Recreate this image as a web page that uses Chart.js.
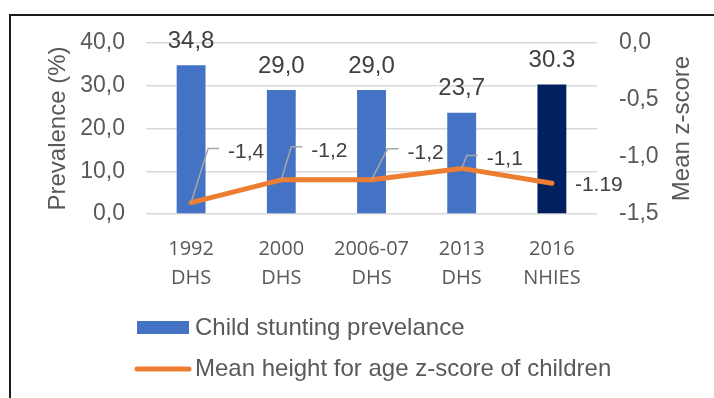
<!DOCTYPE html>
<html>
<head>
<meta charset="utf-8">
<script src="https://cdn.jsdelivr.net/npm/chart.js@4/dist/chart.umd.min.js"></script>
<style>
  html, body { margin: 0; padding: 0; background: #fff; }
  #wrap { width: 714px; height: 398px; position: relative; }
</style>
</head>
<body>
<div id="wrap"><canvas id="stuntingChart"></canvas></div>
<script>
// data
const categories = [['1992', 'DHS'], ['2000', 'DHS'], ['2006-07', 'DHS'], ['2013', 'DHS'], ['2016', 'NHIES']];
const stuntingPct = [34.8, 29.0, 29.0, 23.7, 30.3];
const meanZScore = [-1.40, -1.20, -1.20, -1.10, -1.23];
const stuntingLabels = ['34,8', '29,0', '29,0', '23,7', '30.3'];
const zScoreLabels = ['-1,4', '-1,2', '-1,2', '-1,1', '-1.19'];
const seriesNames = ['Child stunting prevelance', 'Mean height for age z-score of children'];

// label placement for the z-score labels (text left/middle relative to the point)
const zLabelOffsets = [[37, -50], [30, -29], [36, -27], [25, -9], [23, 2]];
const zLabelLeader = [true, true, true, true, false];

const BLUE = '#4472C4';
const NAVY = '#002060';
const ORANGE = '#ED7D31';
const AXIS_TEXT = '#595959';
const LABEL_TEXT = '#404040';
const FONT = '"Liberation Sans", Arial, sans-serif';

const comma = v => v.toFixed(1).replace('.', ',').replace('-0,0', '0,0');

const decorPlugin = {
  id: 'decor',
  beforeDraw(chart) {
    const c = chart.ctx;
    c.save();
    c.strokeStyle = '#1a1a1a';
    c.lineWidth = 2;
    c.strokeRect(10, 15, 720, 400);
    c.restore();
  },
  afterDatasetsDraw(chart) {
    const c = chart.ctx;
    const bars = chart.getDatasetMeta(0).data;
    const pts = chart.getDatasetMeta(1).data;
    c.save();

    // bar value labels
    c.font = '24px ' + FONT;
    c.fillStyle = LABEL_TEXT;
    c.textAlign = 'center';
    c.textBaseline = 'middle';
    bars.forEach((b, i) => {
      c.fillText(stuntingLabels[i], b.x, b.y - 24);
    });

    // z-score labels with leader lines
    c.font = '21px ' + FONT;
    c.textAlign = 'left';
    pts.forEach((p, i) => {
      const tx = p.x + zLabelOffsets[i][0];
      const ty = p.y + zLabelOffsets[i][1];
      if (zLabelLeader[i]) {
        c.strokeStyle = '#A6A6A6';
        c.lineWidth = 1.5;
        c.beginPath();
        c.moveTo(p.x, p.y);
        c.lineTo(tx - 20, ty - 4);
        c.lineTo(tx - 9, ty - 4);
        c.stroke();
      }
      c.fillStyle = LABEL_TEXT;
      c.fillText(zScoreLabels[i], tx, ty);
    });
    c.restore();
  },
  afterDraw(chart) {
    const c = chart.ctx;
    const area = chart.chartArea;
    c.save();
    // right axis title, reading bottom to top
    c.font = '24px ' + FONT;
    c.fillStyle = AXIS_TEXT;
    c.translate(682, (area.top + area.bottom) / 2);
    c.rotate(-Math.PI / 2);
    c.textAlign = 'center';
    c.textBaseline = 'middle';
    c.fillText('Mean z-score', 0, 0);
    c.restore();

    // legend
    c.save();
    c.font = '24px ' + FONT;
    c.textAlign = 'left';
    c.textBaseline = 'middle';
    c.fillStyle = BLUE;
    c.fillRect(137, 321, 52, 13);
    c.fillStyle = AXIS_TEXT;
    c.fillText(chart.data.datasets[0].label, 195, 328);
    c.strokeStyle = ORANGE;
    c.lineWidth = 5;
    c.lineCap = 'round';
    c.beginPath();
    c.moveTo(137, 369);
    c.lineTo(189, 369);
    c.stroke();
    c.fillText(chart.data.datasets[1].label, 195, 369);
    c.restore();
  }
};

new Chart(document.getElementById('stuntingChart'), {
  type: 'bar',
  data: {
    labels: categories,
    datasets: [{
      label: seriesNames[0],
      data: stuntingPct,
      backgroundColor: ctx => ctx.dataIndex === 4 ? NAVY : BLUE,
      borderWidth: 0,
      barPercentage: 0.32,
      categoryPercentage: 1,
      yAxisID: 'y',
      order: 2
    }, {
      type: 'line',
      label: seriesNames[1],
      data: meanZScore,
      borderColor: ORANGE,
      backgroundColor: ORANGE,
      borderWidth: 5,
      borderCapStyle: 'round',
      borderJoinStyle: 'round',
      pointRadius: 0,
      tension: 0,
      fill: false,
      yAxisID: 'y1',
      order: 1
    }]
  },
  options: {
    responsive: true,
    maintainAspectRatio: false,
    animation: false,
    layout: { padding: { left: 10, right: 0, top: 43, bottom: 0 } },
    plugins: {
      legend: { display: false },
      tooltip: { enabled: false }
    },
    scales: {
      x: {
        afterFit: s => { s.height = 184; },
        grid: { display: false, drawTicks: false },
        border: { display: false },
        ticks: {
          color: AXIS_TEXT,
          padding: 21,
          maxRotation: 0,
          font: { family: '"Open Sans", sans-serif', size: 20, lineHeight: 1.45 }
        }
      },
      y: {
        position: 'left',
        min: 0,
        max: 40,
        afterFit: s => { s.width = 136; },
        grid: { color: '#D9D9D9', lineWidth: 1.5, drawTicks: false },
        border: { display: false },
        ticks: {
          stepSize: 10,
          padding: 21,
          color: AXIS_TEXT,
          font: { family: FONT, size: 23 },
          callback: v => comma(v)
        },
        title: {
          display: true,
          text: 'Prevalence (%)',
          color: AXIS_TEXT,
          font: { family: FONT, size: 24 },
          padding: { top: 34, bottom: 0 }
        }
      },
      y1: {
        position: 'right',
        min: -1.5,
        max: 0,
        afterFit: s => { s.width = 117; },
        grid: { drawOnChartArea: false, drawTicks: false },
        border: { display: false },
        ticks: {
          stepSize: 0.5,
          padding: 22,
          color: AXIS_TEXT,
          font: { family: FONT, size: 23 },
          callback: v => comma(v)
        }
      }
    }
  },
  plugins: [decorPlugin]
});
</script>
</body>
</html>
